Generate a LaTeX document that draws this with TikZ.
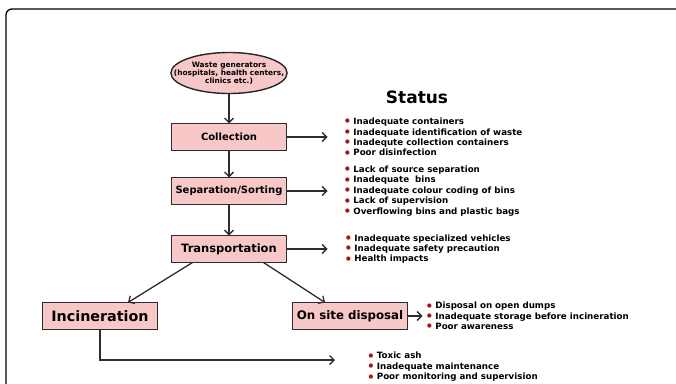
\documentclass[tikz,border=0pt]{standalone}
\usepackage{fontspec}
\setmainfont{DejaVu Sans}
\usepackage{tikz}
\usetikzlibrary{shapes.geometric, arrows.meta, positioning, calc}
\definecolor{boxpink}{RGB}{248,200,200}
\definecolor{bulletred}{RGB}{165,20,20}
\definecolor{linegray}{RGB}{45,45,45}
\newcommand{\itm}{\textcolor{bulletred}{\smash{\raisebox{-1.3pt}{\fontsize{12}{10}\selectfont\textbullet}}}\hspace{2pt}}

\begin{document}
\begin{tikzpicture}[
  x=1pt, y=-1pt,
  box/.style={
    rectangle, draw=linegray, line width=1.5pt, fill=boxpink,
    minimum width=115pt, minimum height=27pt, inner sep=1pt, outer sep=0pt,
    font=\bfseries\fontsize{10}{12}\selectfont
  },
  genbox/.style={
    ellipse, draw=black!85, line width=1.4pt, fill=boxpink,
    minimum width=116pt, minimum height=41pt, outer sep=0pt,
    inner xsep=-14pt, inner ysep=0pt, align=center,
    font=\bfseries\fontsize{7.4}{8.2}\selectfont
  },
  list/.style={
    anchor=west, align=left, inner sep=0pt,
    font=\bfseries\fontsize{8.7}{10.4}\selectfont
  },
  arrow/.style={-{Straight Barb[length=4.5pt, width=9pt]}, line width=1.3pt, draw=linegray}
]
\useasboundingbox (0,0) rectangle (676,383);
\clip (0,0) rectangle (676,383);

% -- frame --
\draw[line width=1.3pt, rounded corners=6pt] (6,400) |- (700,9);

% -- main chain --
\node[genbox] (gen) at (229,73) {Waste generators\\(hospitals, health centers,\\clinics etc.)};
\node[box, below=30pt of gen] (coll) {Collection};
\node[box, below=27pt of coll] (sep) {Separation/Sorting};
\node[box, font=\bfseries\fontsize{11.5}{13}\selectfont, below=31pt of sep] (trans) {Transportation};
\node[box, font=\bfseries\fontsize{14.3}{16}\selectfont, below left=40pt and 14pt of trans] (incin) {Incineration};
\node[box, font=\bfseries\fontsize{11.8}{13}\selectfont, below right=40pt and 6pt of trans] (onsite) {On site disposal};

% -- status lists --
\node[font=\bfseries\fontsize{17}{20}\selectfont] (status) at (417,97) {Status};
\node[list, right=57pt of coll] (colllist) {\itm Inadequate containers\\\itm Inadequate identification of waste\\\itm Inadequte collection containers\\\itm Poor disinfection};
\node[list, right=57pt of sep] (seplist) {\itm Lack of source separation\\\itm Inadequate\ \ bins\\\itm Inadequate colour coding of bins\\\itm Lack of supervision\\\itm Overflowing bins and plastic bags};
\node[list, right=58pt of trans] (translist) {\itm Inadequate specialized vehicles\\\itm Inadequate safety precaution\\\itm Health impacts};
\node[list, right=18pt of onsite] (onsitelist) {\itm Disposal on open dumps\\\itm Inadequate storage before incineration\\\itm Poor awareness};
\coordinate (incend) at (335,360);
\node[list, right=32pt of incend, yshift=-7pt] (incinlist) {\itm Toxic ash\\\itm Inadequate maintenance\\\itm Poor monitoring and supervision};

% -- arrows down --
\draw[arrow] (gen) -- (coll);
\draw[arrow] (coll) -- (sep);
\draw[arrow] (sep) -- (trans);
\draw[arrow] ([xshift=21pt]trans.south west) -- ([xshift=28pt]incin.north);
\draw[arrow] ([xshift=-23pt]trans.south east) -- ([xshift=-25pt]onsite.north);

% -- arrows to lists --
\draw[arrow, shorten >=16pt] (coll.east) -- (coll.east -| colllist.west);
\draw[arrow, shorten >=16pt] (sep.east) -- (sep.east -| seplist.west);
\draw[arrow, shorten >=17pt] (trans.east) -- (trans.east -| translist.west);
\draw[arrow, shorten >=3pt] (onsite.east) -- (onsite.east -| onsitelist.west);
\draw[arrow] (incin.south) |- (incend);

\end{tikzpicture}
\end{document}
